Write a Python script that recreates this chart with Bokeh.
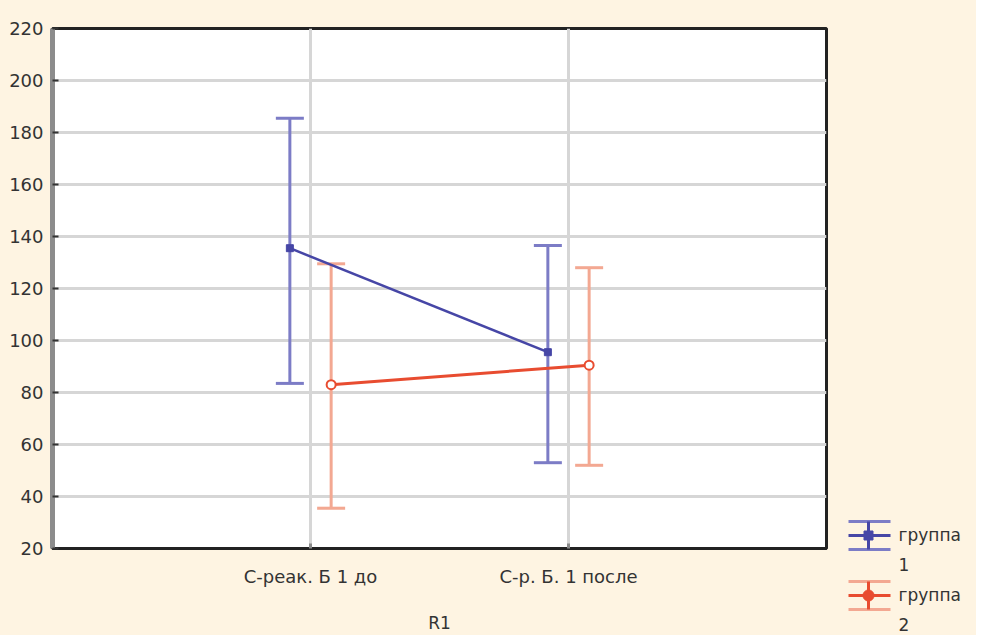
from bokeh.plotting import figure
from bokeh.layouts import row
from bokeh.models import (ColumnDataSource, Whisker, TeeHead, FixedTicker, Range1d)
from bokeh.core.properties import value
from bokeh.embed import file_html
from bokeh.resources import INLINE

# ---- data ----
categories = ["С-реак. Б 1 до", "С-р. Б. 1 после"]
group_labels = ["группа\n1", "группа\n2"]
g1_mean = [135.5, 95.5]
g1_upper = [185.5, 136.5]
g1_lower = [83.5, 53.0]
g2_mean = [83.0, 90.5]
g2_upper = [129.5, 128.0]
g2_lower = [35.5, 52.0]
y_ticks = [20, 40, 60, 80, 100, 120, 140, 160, 180, 200, 220]
x_axis_label = "R1"

# ---- styles ----
BG = "#FEF4E2"
BLUE_LINE = "#4646a6"
BLUE_BAR = "#7c7cc6"
RED_LINE = "#e84c30"
RED_BAR = "#f3a892"
TXT = "#333333"
FONT = "DejaVu Sans"

cat_pos = [i + 1 for i in range(len(categories))]
off = 0.08
x1 = [c - off for c in cat_pos]
x2 = [c + off for c in cat_pos]

p = figure(width=830, height=635, output_backend="svg", toolbar_location=None,
           x_range=Range1d(0, 3), y_range=Range1d(20, 220),
           min_border_left=52, min_border_right=4, min_border_top=28,
           min_border_bottom=87)
p.frame_align = False
p.background_fill_color = "white"
p.border_fill_color = BG
p.outline_line_color = "#222222"
p.outline_line_width = 3

src1 = ColumnDataSource(dict(x=x1, m=g1_mean, u=g1_upper, l=g1_lower))
src2 = ColumnDataSource(dict(x=x2, m=g2_mean, u=g2_upper, l=g2_lower))

for src, col in ((src1, BLUE_BAR), (src2, RED_BAR)):
    w = Whisker(source=src, base="x", upper="u", lower="l", dimension="height",
                line_color=col, line_width=3,
                upper_head=TeeHead(size=28, line_color=col, line_width=3),
                lower_head=TeeHead(size=28, line_color=col, line_width=3))
    p.add_layout(w)

p.line("x", "m", source=src1, line_color=BLUE_LINE, line_width=2.5)
p.scatter("x", "m", source=src1, marker="square", size=7,
          fill_color=BLUE_LINE, line_color=BLUE_LINE)
p.line("x", "m", source=src2, line_color=RED_LINE, line_width=3)
p.scatter("x", "m", source=src2, marker="circle", size=9,
          fill_color="white", line_color=RED_LINE, line_width=2)

# axes
p.xaxis.ticker = FixedTicker(ticks=cat_pos)
p.xaxis.major_label_overrides = {c: n for c, n in zip(cat_pos, categories)}
p.xaxis.axis_label = x_axis_label
p.yaxis.ticker = FixedTicker(ticks=y_ticks)

for ax in (p.xaxis[0], p.yaxis[0]):
    ax.major_label_text_font = FONT
    ax.major_label_text_font_size = "18px"
    ax.major_label_text_color = TXT
    ax.minor_tick_line_color = None
    ax.major_tick_out = 0

p.xaxis.axis_line_color = "#222222"
p.xaxis.axis_line_width = 3
p.xaxis.major_tick_in = 5
p.xaxis.major_tick_line_color = "#8a8a8a"
p.xaxis.major_tick_line_width = 3
p.xaxis.major_label_standoff = 17
p.xaxis.axis_label_text_font = FONT
p.xaxis.axis_label_text_font_size = "17px"
p.xaxis.axis_label_text_font_style = "normal"
p.xaxis.axis_label_text_color = TXT
p.xaxis.axis_label_standoff = 23

p.yaxis.axis_line_color = "#8c8c8c"
p.yaxis.axis_line_width = 5
p.yaxis.major_tick_in = 6
p.yaxis.major_tick_line_color = "#333333"
p.yaxis.major_tick_line_width = 2
p.yaxis.major_label_standoff = 9

p.xgrid.grid_line_color = "#d6d6d6"
p.xgrid.grid_line_width = 3
p.ygrid.grid_line_color = "#d6d6d6"
p.ygrid.grid_line_width = 3

# ---- legend panel (pixel-like coordinates, y downwards) ----
LW, LH = 146, 635
q = figure(width=LW, height=LH, output_backend="svg", toolbar_location=None,
           x_range=Range1d(0, LW), y_range=Range1d(LH, 0),
           x_axis_location=None, y_axis_location=None, min_border=0)
q.frame_align = False
q.grid.visible = False
q.outline_line_color = None
q.background_fill_color = BG
q.border_fill_color = BG

icon_x0, icon_x1, icon_xc = 18, 60, 38
half = 14
styles = [(BLUE_LINE, BLUE_BAR, "square", BLUE_LINE, 7),
          (RED_LINE, RED_BAR, "circle", RED_LINE, 9)]
for i, (lab, (lc, bc, mk, mfc, ms)) in enumerate(zip(group_labels, styles)):
    cy = 535 + i * 60
    q.segment(x0=[icon_x0, icon_x0], y0=[cy - half, cy + half],
              x1=[icon_x1, icon_x1], y1=[cy - half, cy + half],
              line_color=bc, line_width=3)
    q.segment(x0=[icon_xc], y0=[cy - half], x1=[icon_xc], y1=[cy + half],
              line_color=lc, line_width=3)
    q.segment(x0=[icon_x0], y0=[cy], x1=[icon_x1], y1=[cy],
              line_color=lc, line_width=3)
    q.scatter(x=[icon_xc], y=[cy], marker=mk, size=ms + 2,
              fill_color=mfc, line_color=lc)
    q.text(x=[68], y=[cy - 11], text=[lab], text_font=value(FONT),
           text_font_size="17px", text_color=TXT, text_baseline="top",
           text_line_height=1.5)

layout = row(p, q, spacing=0)
layout.background = BG
open("out.html", "w").write(file_html(layout, INLINE))
